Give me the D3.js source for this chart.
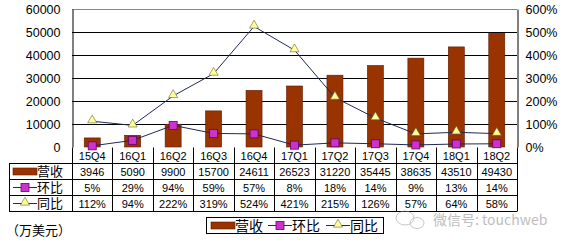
<!DOCTYPE html>
<html>
<head>
<meta charset="utf-8">
<script src="https://cdn.jsdelivr.net/npm/d3@7"></script>
<style>
body { margin: 0; background: #fff; }
text { font-family: "Liberation Sans", Arial, sans-serif; fill: #000; }
.cjk { font-family: "Noto Sans CJK SC", sans-serif; }
</style>
</head>
<body>
<svg id="chart" width="565" height="242"></svg>
<script>
var quarters = ["15Q4", "16Q1", "16Q2", "16Q3", "16Q4", "17Q1", "17Q2", "17Q3", "17Q4", "18Q1", "18Q2"];
var revenue = [3946, 5090, 9900, 15700, 24611, 26523, 31220, 35445, 38635, 43510, 49430];
var qoq = [5, 29, 94, 59, 57, 8, 18, 14, 9, 13, 14];
var yoy = [112, 94, 222, 319, 524, 421, 215, 126, 57, 64, 58];
var leftTicks = [0, 10000, 20000, 30000, 40000, 50000, 60000];
var rightTicks = [0, 100, 200, 300, 400, 500, 600];
var seriesNames = ["营收", "环比", "同比"];

var barColor = "#993300", lineColor = "#1f2a55", squareColor = "#cc33cc", triColor = "#ffff99";

var svg = d3.select("#chart");
var pLeft = 72, pRight = 517, pTop = 9, pBottom = 147;

var x = d3.scaleBand().domain(quarters).range([pLeft, pRight]);
var y = d3.scaleLinear().domain([0, 60000]).range([pBottom, pTop]);
var y2 = d3.scaleLinear().domain([0, 600]).range([pBottom, pTop]);

// grid
svg.append("g").selectAll("line")
    .data(leftTicks.slice(1)).enter().append("line")
    .attr("x1", pLeft).attr("x2", pRight)
    .attr("y1", function (d) { return y(d) + 0.5; }).attr("y2", function (d) { return y(d) + 0.5; })
    .attr("stroke", function (d) { return d == 60000 ? "#888" : "#000"; })
    .attr("stroke-width", 1);

// left axis
var ax = d3.axisLeft(y).tickValues(leftTicks).tickSize(0).tickPadding(12).tickFormat(d3.format("d"));
svg.append("g").attr("transform", "translate(" + (pLeft + 0.5) + ",0)").call(ax)
    .call(function (g) {
        g.select(".domain").attr("stroke", "#000");
        g.selectAll("text").style("font-size", "12.5px").style("font-family", "Liberation Sans, Arial, sans-serif");
    });

// right axis
var ax2 = d3.axisRight(y2).tickValues(rightTicks).tickSize(0).tickPadding(8)
    .tickFormat(function (d) { return d + "%"; });
svg.append("g").attr("transform", "translate(" + (pRight + 0.5) + ",0)").call(ax2)
    .call(function (g) {
        g.select(".domain").attr("stroke", "#000");
        g.selectAll("text").style("font-size", "12.5px").style("font-family", "Liberation Sans, Arial, sans-serif");
    });

// bars
var bw = 16;
svg.append("g").selectAll("rect")
    .data(revenue).enter().append("rect")
    .attr("x", function (d, i) { return x(quarters[i]) + x.bandwidth() / 2 - bw / 2; })
    .attr("y", function (d) { return y(d); })
    .attr("width", bw)
    .attr("height", function (d) { return pBottom - y(d); })
    .attr("fill", barColor).attr("stroke", "#5a1a00").attr("stroke-width", 0.6);

var cx = function (d, i) { return x(quarters[i]) + x.bandwidth() / 2; };

// lines
var line = function (sc) {
    return d3.line().x(function (d, i) { return cx(d, i); }).y(function (d) { return sc(d); });
};
svg.append("path").datum(yoy).attr("d", line(y2))
    .attr("fill", "none").attr("stroke", lineColor).attr("stroke-width", 1);
svg.append("path").datum(qoq).attr("d", line(y2))
    .attr("fill", "none").attr("stroke", lineColor).attr("stroke-width", 1);

var tri = d3.symbol().type(d3.symbolTriangle).size(36);
svg.append("g").selectAll("path")
    .data(yoy).enter().append("path")
    .attr("d", tri)
    .attr("transform", function (d, i) { return "translate(" + cx(d, i) + "," + (y2(d) - 1) + ")"; })
    .attr("fill", triColor).attr("stroke", "#666633").attr("stroke-width", 0.6);

svg.append("g").selectAll("rect")
    .data(qoq).enter().append("rect")
    .attr("x", function (d, i) { return cx(d, i) - 4; })
    .attr("y", function (d) { return y2(d) - 4; })
    .attr("width", 8).attr("height", 8)
    .attr("fill", squareColor).attr("stroke", "#660066").attr("stroke-width", 0.8);

// data table
var rows = [147.5, 163.5, 179.5, 195.5, 211.5];
var tbl = svg.append("g");
[1, 2, 3, 4].forEach(function (r) {
    tbl.append("line").attr("x1", 9).attr("x2", pRight).attr("y1", rows[r]).attr("y2", rows[r]).attr("stroke", "#000");
});
tbl.append("line").attr("x1", 9.5).attr("x2", 9.5).attr("y1", rows[1]).attr("y2", rows[4]).attr("stroke", "#000");
tbl.selectAll(".vsep")
    .data(quarters).enter().append("line")
    .attr("x1", function (d) { return Math.round(x(d)) + 0.5; }).attr("x2", function (d) { return Math.round(x(d)) + 0.5; })
    .attr("y1", rows[0]).attr("y2", rows[4]).attr("stroke", "#000");
tbl.append("line").attr("x1", pRight + 0.5).attr("x2", pRight + 0.5).attr("y1", rows[0]).attr("y2", rows[4]).attr("stroke", "#000");

var tableData = [quarters, revenue, qoq.map(function (d) { return d + "%"; }), yoy.map(function (d) { return d + "%"; })];
tableData.forEach(function (arr, r) {
    svg.append("g").selectAll("text")
        .data(arr).enter().append("text")
        .attr("x", function (d, i) { return x(quarters[i]) + x.bandwidth() / 2; })
        .attr("y", (rows[r] + rows[r + 1]) / 2 + 4)
        .attr("text-anchor", "middle")
        .style("font-size", "11px")
        .text(function (d) { return d; });
});

// legend key drawing
function drawKey(g, k, kx, ky) {
    if (k == 0) {
        g.append("rect").attr("x", kx).attr("y", ky - 3.5).attr("width", 24).attr("height", 7)
            .attr("fill", barColor).attr("stroke", "#5a1a00").attr("stroke-width", 0.6);
    } else {
        g.append("line").attr("x1", kx).attr("x2", kx + 24).attr("y1", ky).attr("y2", ky)
            .attr("stroke", lineColor);
        if (k == 1)
            g.append("rect").attr("x", kx + 8).attr("y", ky - 4).attr("width", 8).attr("height", 8)
                .attr("fill", squareColor).attr("stroke", "#660066").attr("stroke-width", 0.8);
        else
            g.append("path").attr("d", tri).attr("transform", "translate(" + (kx + 12) + "," + (ky - 1) + ")")
                .attr("fill", triColor).attr("stroke", "#666633").attr("stroke-width", 0.6);
    }
}

// table row keys
seriesNames.forEach(function (name, k) {
    var cy = (rows[k + 1] + rows[k + 2]) / 2;
    drawKey(svg, k, 13, cy);
    svg.append("text").attr("class", "cjk").attr("x", 37).attr("y", cy + 4.5)
        .style("font-size", "13px").text(name);
});

// bottom legend
var lg = svg.append("g");
lg.append("rect").attr("x", 206.5).attr("y", 217.5).attr("width", 177).attr("height", 16)
    .attr("fill", "#fff").attr("stroke", "#000");
var lx = [211, 268, 326];
seriesNames.forEach(function (name, k) {
    drawKey(lg, k, lx[k], 225.5);
    lg.append("text").attr("class", "cjk").attr("x", lx[k] + 24).attr("y", 230.5)
        .style("font-size", "14px").text(name);
});

svg.append("text").attr("class", "cjk").attr("x", 6).attr("y", 235)
    .style("font-size", "13px").text("（万美元）");

// watermark
var wm = svg.append("g").attr("opacity", 0.55);
wm.append("ellipse").attr("cx", 405).attr("cy", 218).attr("rx", 9).attr("ry", 7)
    .attr("fill", "none").attr("stroke", "#999");
wm.append("ellipse").attr("cx", 417).attr("cy", 223).attr("rx", 7).attr("ry", 5.5)
    .attr("fill", "none").attr("stroke", "#999");
wm.append("text").attr("class", "cjk").attr("x", 433).attr("y", 225)
    .style("font-size", "14px").style("fill", "#888").text("微信号: touchweb");
</script>
</body>
</html>
